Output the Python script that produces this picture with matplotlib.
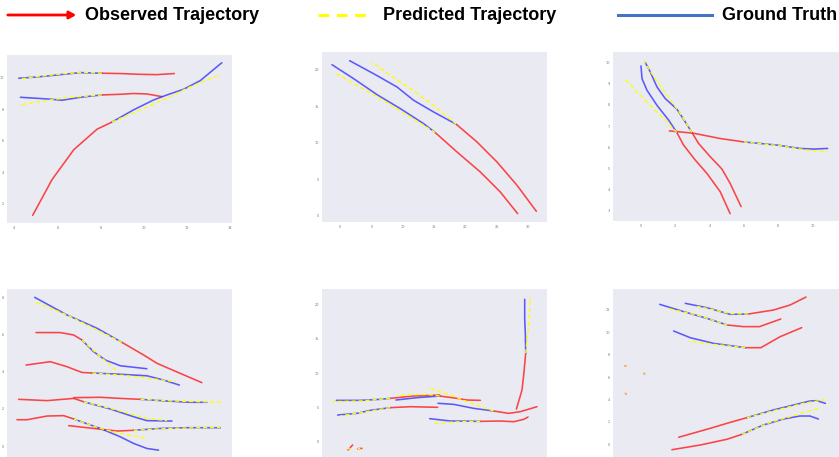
import matplotlib
matplotlib.use("Agg")
import matplotlib.pyplot as plt
from matplotlib.lines import Line2D

# ---------------------------------------------------------------
# Trajectory data (per panel: observed, predicted, ground truth)
# each trajectory is a list of (x, y) points
# ---------------------------------------------------------------

# Panel 1
P1_OBSERVED = [
    [(8.06, 10.30), (8.91, 10.28), (9.83, 10.23), (10.60, 10.21), (11.41, 10.28)],
    [(8.06, 8.92), (8.91, 8.96), (9.52, 9.01), (10.14, 8.98), (10.84, 8.81)],
    [(4.85, 1.26), (5.74, 3.52), (6.75, 5.43), (7.83, 6.74), (8.52, 7.19)],
]
P1_PREDICTED = [
    [(8.06, 10.30), (7.21, 10.36), (6.13, 10.25), (5.05, 10.08), (4.20, 9.92)],
    [(8.06, 8.92), (6.44, 8.75), (5.20, 8.50), (4.20, 8.26)],
    [(8.52, 7.19), (9.83, 7.97), (11.07, 8.71), (11.99, 9.34), (13.54, 10.23)],
]
P1_TRUTH = [
    [(8.06, 10.30), (7.06, 10.34), (6.13, 10.21), (5.05, 10.06), (4.20, 9.98)],
    [(8.06, 8.92), (7.06, 8.77), (6.21, 8.58), (5.67, 8.65), (4.28, 8.77)],
    [(8.52, 7.19), (9.52, 7.97), (10.45, 8.60), (11.07, 8.92), (11.84, 9.28),
     (12.61, 9.83), (13.61, 10.97)],
]

# Panel 2
P2_OBSERVED = [
    [(28.39, 0.27), (25.61, 3.24), (22.41, 5.98), (18.68, 8.72), (15.21, 11.37)],
    [(31.38, 0.59), (28.28, 4.16), (25.08, 7.35), (21.88, 10.09), (18.57, 12.51)],
]
P2_PREDICTED = [
    [(15.21, 11.37), (11.21, 13.52), (6.40, 16.03), (2.67, 17.85), (-0.64, 19.45)],
    [(18.57, 12.51), (14.94, 15.11), (11.21, 17.40), (8.00, 19.22), (4.96, 21.14)],
]
P2_TRUTH = [
    [(15.21, 11.37), (13.34, 12.60), (9.61, 14.66), (5.87, 16.58), (2.13, 18.77),
     (-1.33, 20.68)],
    [(18.57, 12.51), (14.94, 14.20), (11.74, 15.80), (9.07, 17.63), (5.60, 19.32),
     (1.49, 21.23)],
]

# Panel 3
P3_OBSERVED = [
    [(5.19, 2.86), (4.61, 3.90), (3.84, 4.76), (3.16, 5.39), (2.48, 6.10), (2.09, 6.69)],
    [(5.83, 3.19), (5.19, 4.29), (4.71, 4.97), (4.03, 5.55), (3.35, 6.18), (2.97, 6.69)],
    [(1.65, 6.77), (3.06, 6.66), (4.61, 6.41), (5.97, 6.25)],
]
P3_PREDICTED = [
    [(2.09, 6.69), (1.41, 7.28), (0.54, 7.98), (-0.23, 8.61), (-1.01, 9.29)],
    [(2.97, 6.69), (2.29, 7.59), (1.51, 8.46), (0.83, 9.24), (0.16, 10.06)],
    [(5.97, 6.25), (8.10, 6.07), (9.65, 5.86), (10.87, 5.78)],
]
P3_TRUTH = [
    [(2.09, 6.69), (1.61, 7.28), (0.93, 7.98), (0.35, 8.69), (0.06, 9.24), (0.00, 9.84)],
    [(2.97, 6.69), (2.48, 7.32), (2.09, 7.80), (1.41, 8.30), (0.93, 8.85), (0.54, 9.56),
     (0.25, 10.00)],
    [(5.97, 6.25), (7.91, 6.10), (9.26, 5.94), (10.04, 5.91), (10.87, 5.94)],
]

# Panel 4
P4_OBSERVED = [
    [(8.69, 3.42), (7.69, 3.92), (6.62, 4.46), (6.00, 4.91), (5.00, 5.59)],
    [(1.03, 6.12), (2.15, 6.12), (2.77, 5.99), (3.15, 5.72)],
    [(0.57, 4.37), (1.69, 4.55), (2.46, 4.28), (3.15, 3.97), (3.62, 3.94)],
    [(2.77, 2.61), (4.00, 2.63), (4.92, 2.57), (5.85, 2.52)],
    [(0.23, 2.52), (1.54, 2.45), (2.77, 2.57), (3.23, 2.39)],
    [(0.15, 1.42), (0.62, 1.42), (1.54, 1.62), (2.31, 1.64), (2.77, 1.46)],
    [(2.54, 1.10), (3.69, 0.95), (4.77, 0.81), (5.54, 0.85)],
]
P4_PREDICTED = [
    [(5.00, 5.59), (3.85, 6.26), (2.46, 7.07), (1.03, 7.75)],
    [(3.15, 5.72), (4.00, 4.82), (4.85, 3.97)],
    [(3.62, 3.94), (5.23, 3.79), (6.46, 3.62), (7.49, 3.47)],
    [(5.85, 2.52), (7.38, 2.43), (8.62, 2.39), (9.62, 2.36)],
    [(3.23, 2.39), (4.77, 1.94), (6.15, 1.49), (7.08, 1.37)],
    [(2.77, 1.46), (4.00, 0.95), (4.92, 0.68), (6.15, 0.41)],
    [(5.54, 0.85), (7.08, 0.95), (8.62, 0.99), (9.54, 1.01)],
]
P4_TRUTH = [
    [(5.00, 5.59), (3.85, 6.35), (2.46, 7.07), (0.97, 8.02)],
    [(3.15, 5.72), (3.69, 5.09), (4.23, 4.64), (4.92, 4.33), (6.15, 4.17)],
    [(3.62, 3.94), (4.92, 3.87), (6.15, 3.79), (6.92, 3.56), (7.65, 3.29)],
    [(5.85, 2.52), (7.08, 2.43), (8.15, 2.36), (8.92, 2.36)],
    [(3.23, 2.39), (4.46, 2.00), (5.54, 1.58), (6.15, 1.37), (7.31, 1.35)],
    [(2.77, 1.46), (4.00, 0.95), (4.92, 0.50), (5.54, 0.14), (6.15, -0.13), (6.69, -0.22)],
    [(5.54, 0.85), (6.77, 0.95), (8.00, 0.99), (9.54, 0.99)],
]

# Panel 5
P5_OBSERVED = [
    [(28.18, 4.79), (29.08, 7.55), (29.35, 9.73), (29.67, 12.88)],
    [(15.90, 6.83), (11.74, 6.68), (8.00, 6.34)],
    [(15.58, 5.04), (11.21, 5.13), (8.00, 4.99)],
    [(22.41, 6.05), (20.28, 6.10), (18.68, 6.34), (15.90, 6.68)],
    [(31.48, 5.13), (28.82, 4.41), (26.95, 4.16), (24.55, 4.50)],
    [(30.04, 3.63), (29.35, 3.29), (27.75, 2.95), (25.61, 3.05), (22.41, 3.00)],
    [(1.23, -1.16), (1.97, -0.44)],
    [(2.77, -0.97), (3.47, -0.92)],
]
P5_PREDICTED = [
    [(29.67, 12.88), (30.15, 17.00), (30.42, 21.11)],
    [(8.00, 6.34), (3.20, 5.96), (-1.33, 5.86)],
    [(8.00, 4.99), (4.80, 4.50), (0.00, 3.78)],
    [(15.90, 6.68), (13.87, 6.92), (9.07, 6.83)],
    [(24.55, 4.50), (21.34, 5.47), (17.61, 6.83), (13.98, 7.89)],
    [(22.41, 3.00), (19.21, 2.95), (14.94, 2.71)],
    [(1.23, -1.05), (1.55, -0.85)],
    [(2.77, -0.95), (3.20, -0.92)],
]
P5_TRUTH = [
    [(29.67, 12.88), (29.62, 15.54), (29.51, 17.97), (29.51, 20.73)],
    [(8.00, 6.34), (6.40, 6.20), (3.20, 6.05), (-0.64, 6.05)],
    [(8.00, 4.99), (4.80, 4.60), (2.67, 4.16), (-0.43, 3.92)],
    [(15.90, 6.68), (12.27, 6.44), (8.91, 6.10)],
    [(24.55, 4.50), (21.34, 4.89), (18.14, 5.47), (15.64, 5.62)],
    [(22.41, 3.00), (17.61, 3.05), (14.30, 3.39)],
]

# Panel 6
P6_OBSERVED = [
    [(9.61, 13.15), (8.68, 12.44), (7.71, 11.99), (6.26, 11.64)],
    [(8.14, 11.19), (6.90, 10.51), (5.97, 10.51), (5.04, 10.65)],
    [(9.36, 10.42), (8.10, 9.61), (6.98, 8.63), (6.07, 8.63)],
    [(-0.91, 6.99), (-0.86, 6.99)],
    [(0.16, 6.34), (0.21, 6.30)],
    [(-0.91, 4.55), (-0.86, 4.50)],
    [(2.19, 0.63), (4.03, 1.43), (5.19, 1.96), (6.16, 2.38)],
    [(1.80, -0.48), (3.45, -0.06), (5.00, 0.45), (5.87, 0.89)],
]
P6_PREDICTED = [
    [(6.26, 11.64), (5.19, 11.67), (3.84, 12.14), (3.26, 12.32)],
    [(5.04, 10.65), (3.26, 11.55), (1.51, 12.14)],
    [(6.07, 8.63), (4.22, 8.93), (2.77, 9.23)],
    [(-0.93, 7.02), (-0.86, 6.96)],
    [(0.14, 6.37), (0.21, 6.32)],
    [(-0.93, 4.58), (-0.86, 4.52)],
    [(6.16, 2.38), (7.91, 3.07), (9.46, 3.66), (10.87, 4.02)],
    [(5.87, 0.89), (7.52, 1.96), (8.88, 2.56), (10.48, 3.27)],
]
P6_TRUTH = [
    [(6.26, 11.64), (5.19, 11.61), (3.84, 12.20), (2.58, 12.59)],
    [(5.04, 10.65), (3.84, 11.25), (2.48, 11.85), (1.09, 12.50)],
    [(6.07, 8.63), (4.22, 9.02), (2.87, 9.52), (1.90, 10.12)],
    [(6.16, 2.38), (7.71, 3.07), (8.88, 3.51), (9.84, 3.87), (10.23, 3.90), (10.74, 3.66)],
    [(5.87, 0.89), (7.13, 1.73), (8.29, 2.26), (9.26, 2.53), (9.84, 2.53), (10.33, 2.26)],
]

# Axis ticks and limits per panel
P1_XTICKS = [4, 6, 8, 10, 12, 14]
P1_YTICKS = [2, 4, 6, 8, 10]
P2_XTICKS = [0, 5, 10, 15, 20, 25, 30]
P2_YTICKS = [0, 5, 10, 15, 20]
P3_XTICKS = [0, 2, 4, 6, 8, 10]
P3_YTICKS = [3, 4, 5, 6, 7, 8, 9, 10]
P4_XTICKS = [0, 2, 4, 6, 8, 10]
P4_YTICKS = [0, 2, 4, 6, 8]
P5_XTICKS = [0, 5, 10, 15, 20, 25, 30]
P5_YTICKS = [0, 5, 10, 15, 20]
P6_XTICKS = [0, 2, 4, 6, 8, 10]
P6_YTICKS = [0, 2, 4, 6, 8, 10, 12]

LIMITS = [
    ((3.66, 14.08), (0.77, 11.46)),
    ((-2.93, 33.08), (-0.87, 22.42)),
    ((-1.63, 11.53), (2.51, 10.50)),
    ((-0.31, 10.08), (-0.59, 8.47)),
    ((-2.93, 33.08), (-2.18, 22.23)),
    ((-1.63, 11.53), (-1.13, 13.87)),
]

# axes rectangles in pixels (left, top, width, height)
W, H = 839, 457
RECTS = [
    (7, 55, 225, 168), (322, 52, 225, 170), (613, 52, 226, 169),
    (7, 289, 225, 168), (322, 289, 225, 168), (613, 289, 226, 168),
]
# bottom row runs to the lower edge, so its x labels are not shown
SHOW_XLABELS = [True, True, True, False, False, False]

RED = "#ff1a1a"
BLUE = "#2a2aff"
YELLOW = "#ffff00"
BG = "#eaeaf2"

fig = plt.figure(figsize=(W / 100, H / 100), dpi=100)
fig.patch.set_facecolor("white")

panels = [
    (P1_OBSERVED, P1_PREDICTED, P1_TRUTH, P1_XTICKS, P1_YTICKS),
    (P2_OBSERVED, P2_PREDICTED, P2_TRUTH, P2_XTICKS, P2_YTICKS),
    (P3_OBSERVED, P3_PREDICTED, P3_TRUTH, P3_XTICKS, P3_YTICKS),
    (P4_OBSERVED, P4_PREDICTED, P4_TRUTH, P4_XTICKS, P4_YTICKS),
    (P5_OBSERVED, P5_PREDICTED, P5_TRUTH, P5_XTICKS, P5_YTICKS),
    (P6_OBSERVED, P6_PREDICTED, P6_TRUTH, P6_XTICKS, P6_YTICKS),
]

for (obs, pred, truth, xt, yt), (xl, yl), (px, py, pw, ph), showx in zip(
        panels, LIMITS, RECTS, SHOW_XLABELS):
    ax = fig.add_axes([px / W, 1 - (py + ph) / H, pw / W, ph / H])
    ax.set_facecolor(BG)
    for s in ax.spines.values():
        s.set_visible(False)
    for tr in obs:
        xs, ys = zip(*tr)
        ax.plot(xs, ys, color=RED, lw=1.15, alpha=0.8, zorder=2, solid_capstyle="round")
    for tr in truth:
        xs, ys = zip(*tr)
        ax.plot(xs, ys, color=BLUE, lw=1.15, alpha=0.75, zorder=3, solid_capstyle="round")
    for tr in pred:
        xs, ys = zip(*tr)
        ax.plot(xs, ys, color=YELLOW, lw=1.0, ls=(0, (3, 2)), zorder=4)
    ax.set_xlim(*xl)
    ax.set_ylim(*yl)
    ax.set_xticks(xt)
    ax.set_yticks(yt)
    ax.tick_params(length=0, pad=2, labelsize=2.5, labelcolor="#777777",
                   labelbottom=showx)

# Legend strip across the top
ly = 1 - 15 / H
fig.add_artist(Line2D([318 / W, 373 / W], [ly, ly], color=YELLOW, lw=2.2,
                      ls=(0, (3.5, 2.5)), transform=fig.transFigure))
fig.add_artist(Line2D([618 / W, 712 / W], [ly, ly], color="#4472c4", lw=2.2,
                      transform=fig.transFigure))
fig.add_artist(matplotlib.patches.FancyArrowPatch(
    (5 / W, ly), (79 / W, ly), transform=fig.transFigure,
    arrowstyle="-|>,head_length=4,head_width=2.2", color="#ff0000", lw=2.0,
    mutation_scale=1))

font = dict(fontsize=13, fontweight="bold", family=["Liberation Sans", "DejaVu Sans"],
            va="center", ha="left", color="black")
fig.text(85 / W, ly, "Observed Trajectory", **font)
fig.text(383 / W, ly, "Predicted Trajectory", **font)
fig.text(722 / W, ly, "Ground Truth", **font)

fig.savefig("out.png", dpi=100, facecolor="white")
